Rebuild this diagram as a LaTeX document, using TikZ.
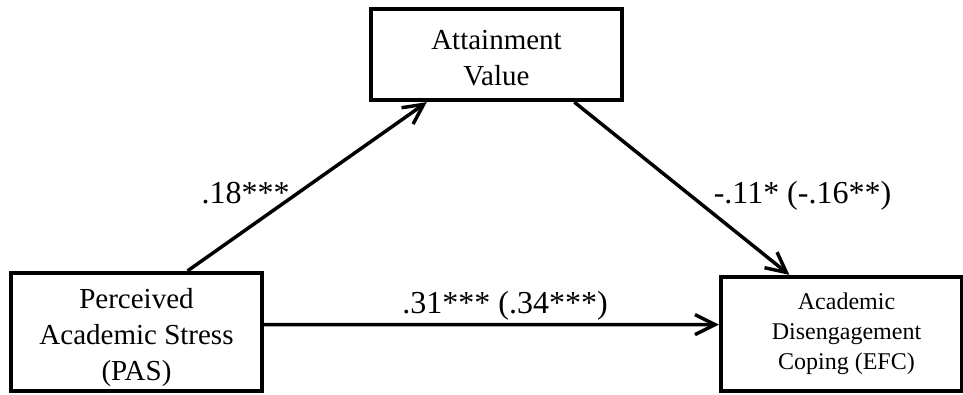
\documentclass[tikz,border=0pt]{standalone}
\usepackage{fontspec}
\setmainfont{Liberation Serif}
\usetikzlibrary{arrows.meta,positioning,calc}

\begin{document}
\begin{tikzpicture}[
    x=0.75pt, y=-0.75pt,
    var_box/.style={draw=black, line width=3.2pt, rectangle, inner sep=0pt},
    var_text/.style={align=center, inner sep=0pt},
    path_arrow/.style={draw=black, line width=2.6pt, -{Straight Barb[length=15pt,width=15pt]}},
    coef/.style={font=\fontsize{24}{28}\selectfont, inner sep=0pt, anchor=base}
]

\useasboundingbox (0,0) rectangle (963,394);

% variables
\node[var_box, minimum width=188.25pt, minimum height=88.5pt] (pas) at (136.5,332) {};
\node[var_box, minimum width=188.25pt, minimum height=68.25pt] (atv) at (496.5,54.5) {};
\node[var_box, minimum width=180.75pt, minimum height=85.5pt] (edc) at (841.5,334) {};

\node[var_text, font=\fontsize{21.75}{27}\selectfont] (pas_txt) at ([yshift=-4.5pt]pas.center) {
    Perceived\\
    Academic Stress\\
    (PAS)
};
\node[var_text, font=\fontsize{21.75}{27}\selectfont] (atv_txt) at ([yshift=-2.6pt]atv.center) {
    Attainment\\
    Value
};
\node[var_text, font=\fontsize{18}{22.5}\selectfont] (edc_txt) at ([xshift=3.75pt]edc.center) {
    Academic\\
    Disengagement\\
    Coping (EFC)
};

% paths
\draw[path_arrow] ($(pas.north west)!0.70!(pas.north east)$) -- ($(atv.south west)!0.227!(atv.south east)$);
\draw[path_arrow] ($(atv.south west)!0.805!(atv.south east)$) -- ($(edc.north west)!0.2875!(edc.north east)$);
\draw[path_arrow] ($(pas.north east)!0.44!(pas.south east)$) -- ($(edc.north west)!0.421!(edc.south west)$);

% coefficients
\node[coef] (a_coef) at (245.5,203) {.18***};
\node[coef] (b_coef) at (802.5,203) {-.11* (-.16**)};
\node[coef] (c_coef) at (505,313) {.31*** (.34***)};

\end{tikzpicture}
\end{document}
